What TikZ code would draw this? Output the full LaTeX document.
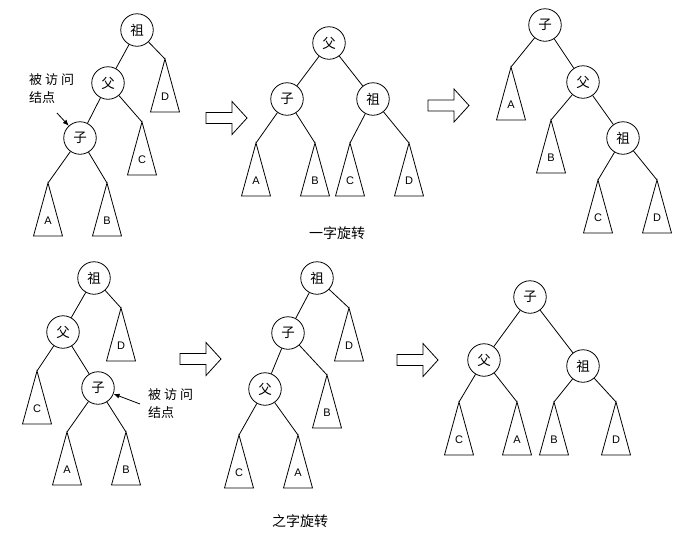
\documentclass[tikz,border=0pt]{standalone}
\usepackage{fontspec}
\setmainfont{Liberation Sans}
\newfontfamily\cjk{Noto Sans CJK SC}
\usetikzlibrary{arrows.meta}
\tikzset{
  tn/.style={circle,draw,line width=0.8pt,minimum size=32.5pt,inner sep=0pt,font=\cjk\fontsize{13.5}{15}\selectfont},
  edge/.style={line width=0.8pt},
  tri/.style={line width=0.8pt,line join=miter},
  leaf/.style={inner sep=0pt,font=\fontsize{11}{13}\selectfont},
  bigarrow/.style={line width=0.8pt,fill=white},
  note/.style={align=left,anchor=west,inner sep=0pt,font=\cjk\fontsize{13}{18}\selectfont},
  caption/.style={inner sep=0pt,font=\cjk\fontsize{14}{16}\selectfont},
  pointer/.style={line width=0.8pt,-{Latex[length=6pt,width=5pt]}}
}
\newcommand\mytri[4]{%
  \coordinate (#1) at (#2,#3);
  \draw[tri] (#1) -- ++(-14.5,53) -- ++(29,0) -- cycle;
  \node[leaf] (#1l) at ([yshift=-38pt]#1) {#4};}
\newcommand\myarrow[2]{%
  \draw[bigarrow] (#1,#2-5.5) -- ++(26,0) -- ++(0,-11) -- ++(15,16.5) -- ++(-15,16.5) -- ++(0,-11) -- ++(-26,0) -- cycle;}
\begin{document}
\begin{tikzpicture}[x=1pt,y=-1pt]
\useasboundingbox (0,0) rectangle (695,547);
\fill[white] (0,0) rectangle (695,547);

% Tree 1
\node[tn] (zu1) at (137,30) {祖};
\node[tn] (fu1) at (108,83) {父};
\node[tn] (zi1) at (80,138) {子};
\mytri{D1}{165}{59}{D}
\mytri{C1}{142}{122}{C}
\mytri{A1}{48}{183}{A}
\mytri{B1}{107}{183}{B}
\draw[edge] (zu1) -- (fu1);
\draw[edge] (zu1) -- (D1);
\draw[edge] (fu1) -- (zi1);
\draw[edge] (fu1) -- (C1);
\draw[edge] (zi1) -- (A1);
\draw[edge] (zi1) -- (B1);
\node[note] (n1) at (29,89) {被\kern3pt访\kern3pt问\\结点};
\coordinate (p1) at (57,113);
\draw[pointer] (p1) -- (zi1);

\myarrow{206}{118}

% Tree 2
\node[tn] (fu2) at (329,43) {父};
\node[tn] (zi2) at (287,99) {子};
\node[tn] (zu2) at (373,99) {祖};
\mytri{A2}{256}{143}{A}
\mytri{B2}{315}{143}{B}
\mytri{C2}{350}{143}{C}
\mytri{D2}{409}{143}{D}
\draw[edge] (fu2) -- (zi2);
\draw[edge] (fu2) -- (zu2);
\draw[edge] (zi2) -- (A2);
\draw[edge] (zi2) -- (B2);
\draw[edge] (zu2) -- (C2);
\draw[edge] (zu2) -- (D2);
\node[caption] (cap1) at (337,233) {一字旋转};

\myarrow{428}{105.5}

% Tree 3
\node[tn] (zi3) at (545,25) {子};
\node[tn] (fu3) at (583,82) {父};
\node[tn] (zu3) at (623,138) {祖};
\mytri{A3}{511}{67}{A}
\mytri{B3}{551}{120}{B}
\mytri{C3}{598}{180}{C}
\mytri{D3}{657}{180}{D}
\draw[edge] (zi3) -- (A3);
\draw[edge] (zi3) -- (fu3);
\draw[edge] (fu3) -- (B3);
\draw[edge] (fu3) -- (zu3);
\draw[edge] (zu3) -- (C3);
\draw[edge] (zu3) -- (D3);

% Tree 4
\node[tn] (zu4) at (94,278) {祖};
\node[tn] (fu4) at (63,332) {父};
\node[tn] (zi4) at (98,388) {子};
\mytri{D4}{121}{308}{D}
\mytri{C4}{37}{371}{C}
\mytri{A4}{67}{432}{A}
\mytri{B4}{126}{432}{B}
\draw[edge] (zu4) -- (fu4);
\draw[edge] (zu4) -- (D4);
\draw[edge] (fu4) -- (C4);
\draw[edge] (fu4) -- (zi4);
\draw[edge] (zi4) -- (A4);
\draw[edge] (zi4) -- (B4);
\node[note] (n4) at (148,404) {被\kern3pt访\kern3pt问\\结点};
\coordinate (p4) at (140,404);
\draw[pointer] (p4) -- (zi4);

\myarrow{180}{359}

% Tree 5
\node[tn] (zu5) at (317,278) {祖};
\node[tn] (zi5) at (288,333) {子};
\node[tn] (fu5) at (265,389) {父};
\mytri{D5}{349}{308}{D}
\mytri{B5}{327}{375}{B}
\mytri{C5}{239}{435}{C}
\mytri{A5}{298}{435}{A}
\draw[edge] (zu5) -- (zi5);
\draw[edge] (zu5) -- (D5);
\draw[edge] (zi5) -- (fu5);
\draw[edge] (zi5) -- (B5);
\draw[edge] (fu5) -- (C5);
\draw[edge] (fu5) -- (A5);
\node[caption] (cap2) at (300,521) {之字旋转};

\myarrow{397}{360}

% Tree 6
\node[tn] (zi6) at (530,297) {子};
\node[tn] (fu6) at (484,360) {父};
\node[tn] (zu6) at (583,366) {祖};
\mytri{C6}{459}{402}{C}
\mytri{A6}{517}{402}{A}
\mytri{B6}{554}{402}{B}
\mytri{D6}{616}{402}{D}
\draw[edge] (zi6) -- (fu6);
\draw[edge] (zi6) -- (zu6);
\draw[edge] (fu6) -- (C6);
\draw[edge] (fu6) -- (A6);
\draw[edge] (zu6) -- (B6);
\draw[edge] (zu6) -- (D6);
\end{tikzpicture}
\end{document}
